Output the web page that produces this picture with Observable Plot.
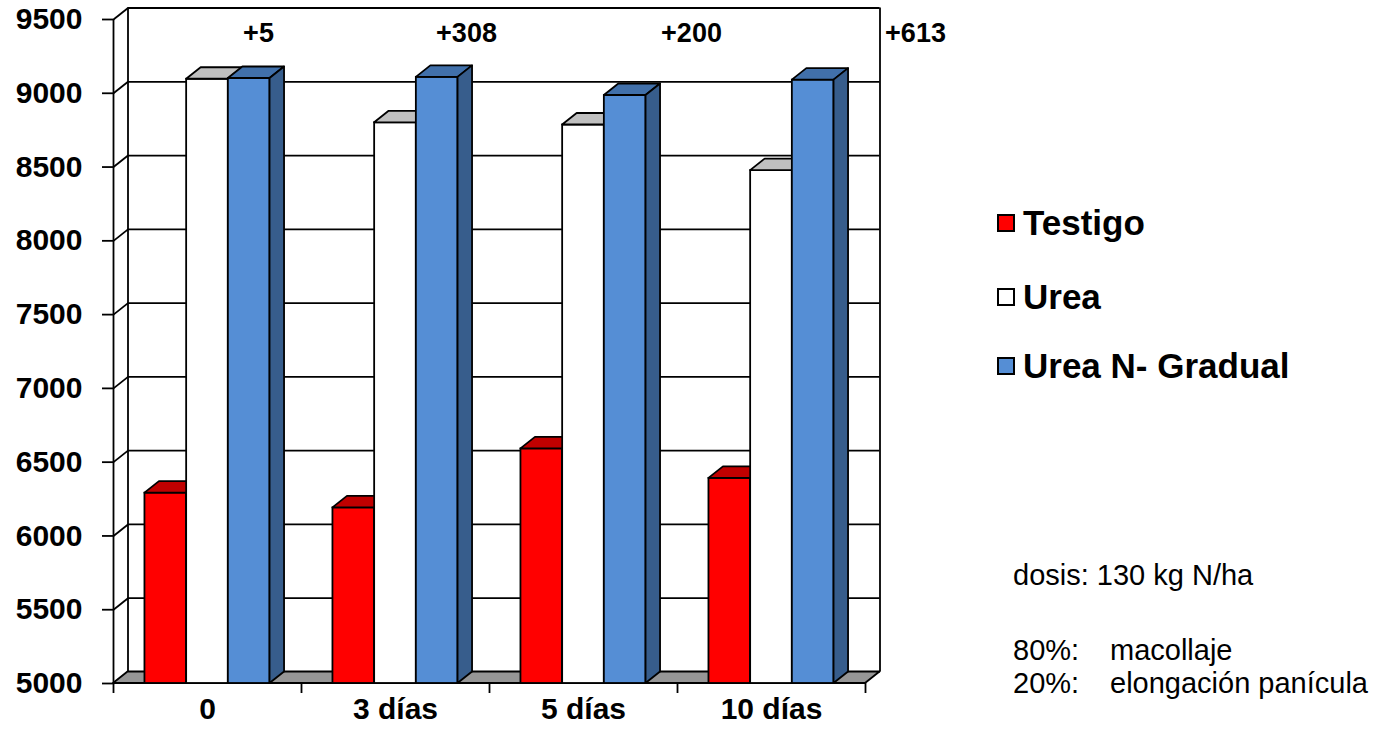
<!DOCTYPE html>
<html>
<head>
<meta charset="utf-8">
<script src="https://cdn.jsdelivr.net/npm/d3@7"></script>
<script src="https://cdn.jsdelivr.net/npm/@observablehq/plot@0.6"></script>
<style>
  html, body { margin: 0; padding: 0; background: #fff; }
  #wrap { position: relative; width: 1376px; height: 735px; font-family: "Liberation Sans", Arial, sans-serif; }
  .leg { position: absolute; left: 997px; display: flex; align-items: center; font-weight: bold; font-size: 35px; height: 40px; }
  .sw { width: 14px; height: 14px; border: 2px solid #000; margin-right: 8px; }
  .note { position: absolute; font-size: 29px; line-height: 34px; color: #000; white-space: nowrap; }
</style>
</head>
<body>
<div id="wrap"></div>
<script>
// ---- data ----
const categories = ["0", "3 días", "5 días", "10 días"];
const testigo = [6290, 6190, 6590, 6390];
const urea = [9095, 8800, 8785, 8476];
const ureaGradual = [9100, 9108, 8985, 9089];
const diffLabels = ["+5", "+308", "+200", "+613"];
const yTicks = [5000, 5500, 6000, 6500, 7000, 7500, 8000, 8500, 9000, 9500];
const seriesNames = ["Testigo", "Urea", "Urea N- Gradual"];

// ---- layout / style ----
const W = 1376, H = 735;
const mL = 113, mR = 511, mT = 19, mB = 52;
const yMin = 5000, yMax = 9500;
const n = categories.length;
const pxX = (W - mL - mR) / n;
const pxY = (H - mT - mB) / (yMax - yMin);
const depthPx = 14.5, risePx = 11.5;
const DX = depthPx / pxX, DY = risePx / pxY;
const barW = 41.7 / pxX;
const colors = [
  {front: "#ff0000", top: "#c00000", side: "#b00000"},
  {front: "#ffffff", top: "#c0c0c0", side: "#c0c0c0"},
  {front: "#558ed5", top: "#4170aa", side: "#375d8c"}
];
const labelDx = [51, 71, 108, 144];
const seriesValues = [testigo, urea, ureaGradual];
const lineW = 1.8;

const marks = [];
// back wall gridlines
marks.push(Plot.ruleY(yTicks, {x1: 0, x2: n, dx: depthPx, dy: -risePx, stroke: "#000", strokeWidth: lineW}));
// back wall edges
marks.push(Plot.ruleX([0, n], {y1: yMin, y2: yMax, dx: depthPx, dy: -risePx, stroke: "#000", strokeWidth: lineW}));
// side wall diagonals
marks.push(Plot.link(yTicks, {x1: () => 0, y1: d => d, x2: () => DX, y2: d => d + DY, stroke: "#000", strokeWidth: lineW}));
// front axis line
marks.push(Plot.ruleX([0], {y1: yMin, y2: yMax, stroke: "#000", strokeWidth: lineW}));
// floor
const floorPts = [
  {x: 0, lo: yMin, hi: yMin},
  {x: DX, lo: yMin, hi: yMin + DY},
  {x: n, lo: yMin, hi: yMin + DY},
  {x: n + DX, lo: yMin + DY, hi: yMin + DY}
];
marks.push(Plot.areaY(floorPts, {x: "x", y1: "lo", y2: "hi", fill: "#969696", stroke: "#000", strokeWidth: lineW}));

// bars (front, top and side faces per series, drawn in order)
seriesValues.forEach((vals, j) => {
  const rows = vals.map((v, i) => {
    const x1 = i + 0.5 + (j - 1.5) * barW;
    return {id: i, v, x1, x2: x1 + barW};
  });
  const tops = rows.flatMap(r => [
    {id: r.id, x: r.x1, lo: r.v, hi: r.v},
    {id: r.id, x: r.x1 + DX, lo: r.v, hi: r.v + DY},
    {id: r.id, x: r.x2, lo: r.v, hi: r.v + DY},
    {id: r.id, x: r.x2 + DX, lo: r.v + DY, hi: r.v + DY}
  ]);
  const sides = rows.flatMap(r => [
    {id: r.id, x: r.x2, lo: yMin, hi: r.v},
    {id: r.id, x: r.x2 + DX, lo: yMin + DY, hi: r.v + DY}
  ]);
  marks.push(Plot.rect(rows, {x1: "x1", x2: "x2", y1: () => yMin, y2: "v", fill: colors[j].front, stroke: "#000", strokeWidth: lineW}));
  marks.push(Plot.areaY(tops, {x: "x", y1: "lo", y2: "hi", z: "id", fill: colors[j].top, stroke: "#000", strokeWidth: lineW}));
  marks.push(Plot.areaY(sides, {x: "x", y1: "lo", y2: "hi", z: "id", fill: colors[j].side, stroke: "#000", strokeWidth: lineW}));
});

// axes
marks.push(Plot.axisY(yTicks, {anchor: "left", tickSize: 11, tickPadding: 20, fontSize: 30, tickFormat: d => String(d), label: null, stroke: "#000", strokeWidth: lineW}));
marks.push(Plot.axisX(d3.range(n + 1), {anchor: "bottom", tickSize: 10, tickFormat: () => "", label: null, stroke: "#000", strokeWidth: lineW}));
marks.push(Plot.axisX(categories.map((c, i) => i + 0.5), {anchor: "bottom", tickSize: 0, tickPadding: 14, fontSize: 30, tickFormat: d => categories[Math.floor(d)], label: null}));

// difference labels
diffLabels.forEach((t, i) => {
  marks.push(Plot.text([t], {x: () => i + 0.5, y: () => yMax, text: d => d, dx: labelDx[i], dy: 14, fontSize: 27, fontWeight: "bold"}));
});

const chart = Plot.plot({
  width: W, height: H,
  marginLeft: mL, marginRight: mR, marginTop: mT, marginBottom: mB,
  x: {type: "linear", domain: [0, n]},
  y: {type: "linear", domain: [yMin, yMax]},
  style: {fontFamily: "'Liberation Sans', Arial, sans-serif", fontWeight: "bold", background: "#fff", color: "#000", overflow: "visible"},
  marks
});
const wrap = document.getElementById("wrap");
wrap.appendChild(chart);

// legend
const legTops = [203, 277, 346];
seriesNames.forEach((name, j) => {
  const d = document.createElement("div");
  d.className = "leg";
  d.style.top = legTops[j] + "px";
  const sw = document.createElement("div");
  sw.className = "sw";
  sw.style.background = colors[j].front;
  d.appendChild(sw);
  const t = document.createElement("span");
  t.textContent = name;
  d.appendChild(t);
  wrap.appendChild(d);
});

// notes
const notes = [
  {text: "dosis: 130 kg N/ha", left: 1013, top: 558},
  {text: "80%:", left: 1013, top: 633},
  {text: "macollaje", left: 1110, top: 633},
  {text: "20%:", left: 1013, top: 666},
  {text: "elongación panícula", left: 1110, top: 666}
];
notes.forEach(nt => {
  const d = document.createElement("div");
  d.className = "note";
  d.style.left = nt.left + "px";
  d.style.top = nt.top + "px";
  d.textContent = nt.text;
  wrap.appendChild(d);
});
</script>
</body>
</html>
